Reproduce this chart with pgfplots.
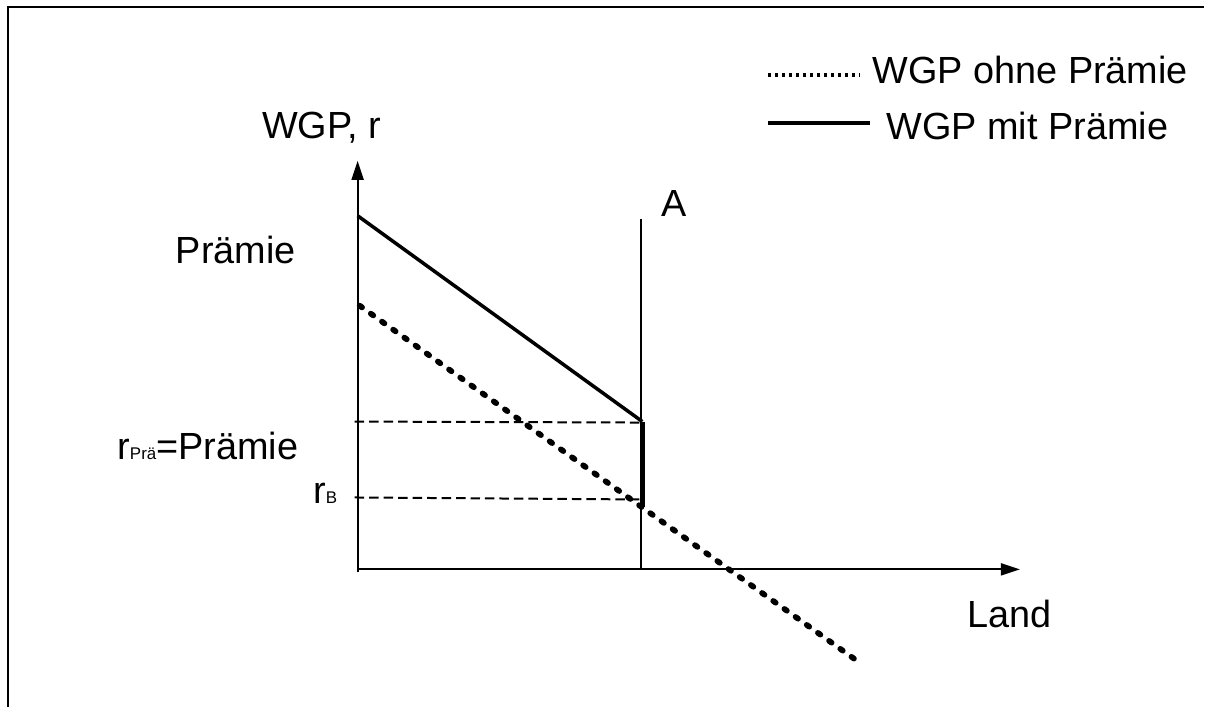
\documentclass[border=0pt]{standalone}
\usepackage{fontspec}
\setmainfont{Liberation Sans}
\usepackage{pgfplots}
\pgfplotsset{compat=1.18}
\usetikzlibrary{arrows.meta}

% units: 1 = one pixel of the 1205x708 reference, origin where the axes meet
\begin{document}
\fontsize{15.2}{18}\selectfont
\begin{tikzpicture}
\begin{axis}[
hide axis,
scale only axis,
clip=false,
width=482bp, height=283.2bp,
xmin=-358, xmax=847,
ymin=-138, ymax=570,
]
\path (rel axis cs:0,0) rectangle (rel axis cs:1,1);
% frame (only top and left are visible)
\draw[line width=1bp] (axis cs:-350,-138) -- (axis cs:-350,563) -- (axis cs:847,563);

% axes
\addplot[black, line width=0.8bp, -{Triangle[length=7.6bp,width=4.8bp]}] coordinates {(0,-3) (0,409)};
\addplot[black, line width=0.8bp, -{Triangle[length=7.6bp,width=4.8bp]}] coordinates {(0,0) (663,0)};

% A
\addplot[black, line width=0.7bp] coordinates {(284,0) (284,351)};

% dashed guides
\addplot[black, line width=0.8bp, dash pattern=on 3.8bp off 2bp] coordinates {(-3,148) (284,147)};
\addplot[black, line width=0.8bp, dash pattern=on 3.8bp off 2bp] coordinates {(-3,72) (282,70)};

% WGP ohne Praemie
\addplot[black, line width=2.3bp, line cap=round, dash pattern=on 1.2bp off 4.3bp] coordinates {(2,264) (502,-93)};

% WGP mit Praemie
\addplot[black, line width=1.4bp] coordinates {(0,354) (285,148)};
\addplot[black, line width=2bp] coordinates {(285,148) (285,62)};

% labels
\node[anchor=base] at (axis cs:-36,431) {WGP, r};
\node[anchor=base] at (axis cs:-122,306) {Prämie};
\node[anchor=base west, inner sep=0pt] at (axis cs:-241,110) {r{\fontsize{6.8}{8}\selectfont Prä}=Prämie};
\node[anchor=base west, inner sep=0pt] at (axis cs:-45,66) {r{\fontsize{6.8}{8}\selectfont B}};
\node[anchor=base west, inner sep=0pt] at (axis cs:304,353) {A};
\node[anchor=base east, inner sep=0pt] at (axis cs:695,-58) {Land};

% legend
\draw[line width=1.4bp, dash pattern=on 1.2bp off 1.6bp] (axis cs:411,495) -- (axis cs:503,495);
\node[anchor=base west, inner sep=0pt] at (axis cs:515,486) {WGP ohne Prämie};
\draw[line width=1.6bp] (axis cs:411,447) -- (axis cs:513,447);
\node[anchor=base west, inner sep=0pt] at (axis cs:529,430) {WGP mit Prämie};
\end{axis}
\end{tikzpicture}
\end{document}
